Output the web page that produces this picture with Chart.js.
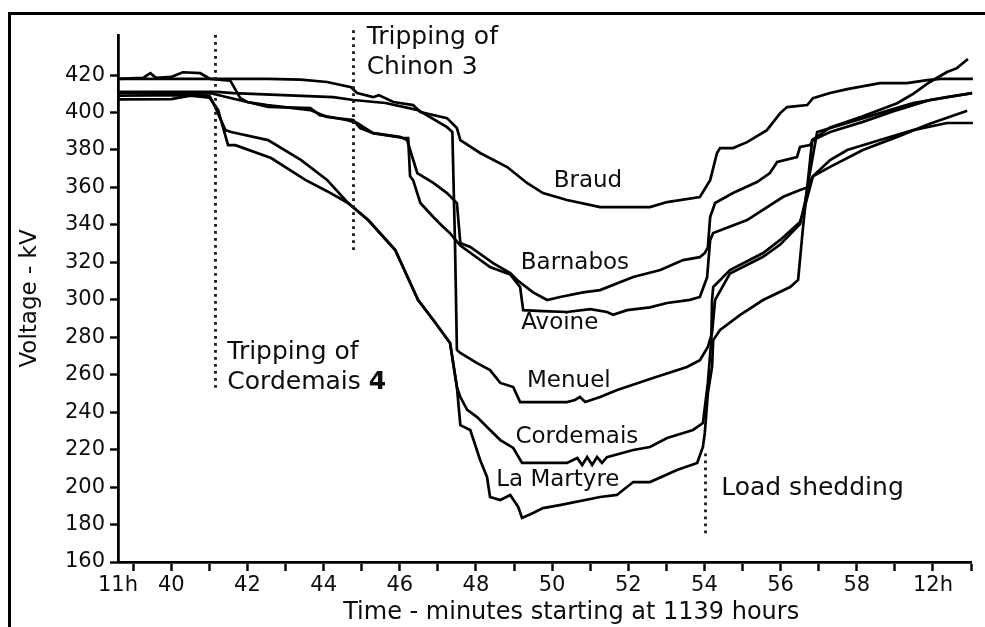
<!DOCTYPE html>
<html><head><meta charset="utf-8">
<script src="https://cdn.jsdelivr.net/npm/chart.js@4.4.0/dist/chart.umd.min.js"></script>
<style>
html,body{margin:0;padding:0;background:#fff;}
#wrap{position:relative;width:985px;height:627px;overflow:hidden;background:#fff;}
#c{position:absolute;left:0;top:0;}
#frame{position:absolute;left:8px;top:12px;width:990px;height:630px;border-top:3px solid #000;border-left:3px solid #000;pointer-events:none;}
</style></head><body>
<div id="wrap"><canvas id="c" width="985" height="627"></canvas><div id="frame"></div></div>
<script>
// ---- data (time in minutes, voltage in kV) ----
const seriesNames = ['Braud','Barnabos','Avoine','Menuel','Cordemais','La Martyre'];

const braud = [[38.6,418],[42.54,418],[43.4,417.6],[44.09,416.3],[44.72,413.5],[44.88,410.4],[45.3,408.2],[45.45,409.3],[45.83,405.6],[46.35,404],[46.54,400.3],[47.24,397],[47.5,391.7],[47.59,385.3],[48.11,378.4],[48.82,370.9],[49.34,362.4],[49.76,357],[50.39,353.3],[51.26,349.5],[52.57,349.5],[53.02,352.2],[53.88,354.9],[54.15,363.9],[54.33,378.4],[54.41,381],[54.75,381],[55.12,384.2],[55.64,390.6],[55.99,399.7],[56.17,402.9],[56.7,404],[56.85,407.7],[57.3,410.4],[57.75,412.5],[58.61,415.7],[59.32,415.7],[59.85,417.3],[60.2,418],[61.05,418]];

const barnabos = [[38.6,410.5],[41.0,410.5],[41.2,409.5],[41.5,408],[42.0,405.6],[42.54,403],[43.65,402.4],[43.9,398.6],[44.6,396],[44.88,394.4],[45.3,389],[46.0,387],[46.19,385.3],[46.46,367.7],[46.88,362.4],[47.24,357],[47.5,351.7],[47.59,330.3],[47.85,328.2],[48.45,319.6],[48.9,314.3],[49.08,310.6],[49.5,304],[49.87,299.9],[50.21,301.5],[50.81,304],[51.26,305.2],[52.13,312.2],[52.84,315.9],[53.44,321.2],[53.88,322.8],[54.01,325],[54.09,328],[54.15,344.2],[54.28,351.7],[54.75,357],[55.38,362.9],[55.72,367.7],[55.91,373.6],[56.43,376.2],[56.51,381.6],[56.77,382.6],[56.85,385.3],[57.3,389.6],[58.16,395],[59.06,401.3],[59.92,406.7],[61.03,410.4]];

const avoine = [[38.6,418],[39.26,418.5],[39.45,421],[39.6,418.5],[40.0,419],[40.3,421.5],[40.76,421],[41.02,418],[41.55,417],[41.81,407.7],[41.99,405.6],[42.52,404],[43.65,401.3],[44.09,397.6],[44.78,396],[44.96,391.7],[45.3,389],[46.09,386.4],[46.22,386.4],[46.27,366],[46.35,363.9],[46.54,351.7],[46.88,344.2],[47.14,338.9],[47.3,336],[47.59,329],[48.37,317.5],[48.9,313.5],[49.16,306.8],[49.24,294.5],[49.76,294],[50.39,293.5],[51.0,295],[51.44,293.5],[51.6,292],[51.97,294.5],[52.57,296],[53.02,298.3],[53.62,300],[53.88,301.5],[54.07,312],[54.15,332],[54.23,335.7],[55.12,342.6],[56.07,355],[56.51,358.6],[56.7,360],[56.85,366],[57.3,371],[58.16,380],[59.06,387],[59.92,394],[60.9,401]];

const menuel = [[38.6,411],[41.2,411],[41.63,410.4],[42.94,409.3],[44.25,408.2],[44.78,406.7],[45.62,405.1],[46.48,401.3],[47.24,392.2],[47.38,389.6],[47.45,330],[47.5,273.2],[47.59,271.6],[48.03,266.2],[48.37,262.5],[48.64,255.6],[48.98,253.4],[49.16,245.4],[50.39,245.4],[50.6,246.5],[50.73,248.1],[50.87,245.4],[51.26,248.1],[51.71,251.8],[52.65,258.2],[53.54,264.1],[53.88,267.8],[54.09,274.8],[54.2,282.3],[54.28,300],[54.67,314],[55.54,323],[55.99,329.5],[56.51,340.5],[56.64,352],[56.77,368],[56.96,389.6],[57.75,394.4],[58.61,399.7],[59.48,405],[60.37,408.2],[61.03,410.4]];

const cordemais = [[38.6,409],[40.5,409.3],[41.0,409],[41.15,403],[41.42,390.6],[41.57,389.6],[42.54,385.3],[43.41,374.6],[44.09,364],[44.64,351.7],[45.17,342.6],[45.88,326.6],[46.48,299.9],[46.88,289.2],[47.32,276.9],[47.5,253.4],[47.59,248.1],[47.77,241.2],[48.03,237.4],[48.37,230.5],[48.64,225.1],[48.98,220.9],[49.21,212.9],[50.39,212.9],[50.66,215.5],[50.79,211.8],[50.92,216],[51.05,211.8],[51.18,216],[51.31,212.9],[51.44,216],[52.13,219.8],[52.57,221.4],[53.02,226.2],[53.7,230.5],[53.96,234.2],[54.09,255.6],[54.18,278.5],[54.2,299.9],[54.23,306.8],[54.67,315.9],[55.54,325],[55.99,332],[56.51,341.5],[56.64,350],[56.85,366],[57.3,374.6],[57.75,380],[58.61,385.3],[59.48,390.6],[60.37,394.4],[61.05,394.4]];

const laMartyre = [[38.6,407],[40.0,407.2],[40.5,409],[41.0,408],[41.23,401.3],[41.49,382.6],[41.68,382.6],[42.62,375.7],[43.52,364],[44.09,358],[44.64,351.7],[45.17,342.6],[45.88,326.6],[46.48,299.9],[46.88,289.2],[47.32,276.9],[47.5,253.4],[47.59,233.1],[47.85,230.5],[48.11,214.5],[48.29,205.4],[48.37,194.7],[48.64,193.1],[48.9,195.8],[49.11,189.4],[49.21,183.5],[49.5,186.2],[49.76,188.8],[50.2,190.4],[51.26,194.7],[51.7,195.8],[52.13,202.7],[52.57,202.7],[53.28,209.1],[53.81,212.9],[53.96,221.4],[54.01,228.9],[54.09,250.2],[54.2,264.1],[54.23,278.5],[54.41,283.9],[54.94,291.9],[55.54,299.9],[56.25,306.8],[56.46,310.6],[56.59,338.9],[56.83,385.3],[57.3,392],[58.16,398],[59.06,405],[59.48,410],[59.92,416.3],[60.37,421.6],[60.63,423.7],[60.92,428.6]];

const xTickValues = [38.6,39,40,41,42,43,44,45,46,47,48,49,50,51,52,53,54,55,56,57,58,59,60,61];
const xTickLabels = ['11h','','40','','42','','44','','46','','48','','50','','52','','54','','56','','58','','12h',''];
const yTickValues = [160,180,200,220,240,260,280,300,320,340,360,380,400,420];

// event times (minutes) and annotation texts
const eventTimes = [41.15, 44.78, 54.02];
const eventTexts = [['Tripping of','Cordemais 4'],['Tripping of','Chinon 3'],['Load shedding']];

// ---- drawing ----
const FONT = '"DejaVu Sans", "Liberation Sans", sans-serif';
const INK = '#0d0d0d';
Chart.defaults.font.family = FONT;
Chart.defaults.color = INK;

const allSeries = [braud, barnabos, avoine, menuel, cordemais, laMartyre];

const eventLineSpans = [[441.4,251.8],[444,325.5],[218,173.5]];
const curveLabelAnchors = [[50.94,363.4],[50.6,319.6],[50.2,287.6],[50.44,256.6],[50.65,226.7],[50.15,203.8]];
const eventTextAnchors = [[41.47,271.6,255.6],[45.13,440.3,424.3],[54.44,199]];

const annotations = {
  id: 'annotations',
  afterDatasetsDraw(chart) {
    const {ctx, scales: {x, y}} = chart;
    ctx.save();
    ctx.strokeStyle = '#1a1a1a';
    ctx.lineWidth = 2.8;
    ctx.setLineDash([2.8, 4.2]);
    eventTimes.forEach((t, i) => {
      const px = Math.round(x.getPixelForValue(t)) + 0.5;
      ctx.beginPath();
      ctx.moveTo(px, y.getPixelForValue(eventLineSpans[i][0]));
      ctx.lineTo(px, y.getPixelForValue(eventLineSpans[i][1]));
      ctx.stroke();
    });
    ctx.setLineDash([]);
    ctx.fillStyle = INK;
    ctx.textBaseline = 'middle';
    ctx.textAlign = 'center';
    ctx.font = '23px ' + FONT;
    seriesNames.forEach((n, i) => {
      ctx.fillText(n, x.getPixelForValue(curveLabelAnchors[i][0]), y.getPixelForValue(curveLabelAnchors[i][1]));
    });
    ctx.textAlign = 'left';
    eventTexts.forEach((lines, i) => {
      const a = eventTextAnchors[i];
      const px = x.getPixelForValue(a[0]);
      lines.forEach((ln, j) => {
        const py = y.getPixelForValue(a[1 + j]);
        if (ln === 'Cordemais 4') {
          ctx.font = '25px ' + FONT;
          const head = 'Cordemais ';
          ctx.fillText(head, px, py);
          const w = ctx.measureText(head).width;
          ctx.font = 'bold 25px ' + FONT;
          ctx.fillText('4', px + w, py);
        } else {
          ctx.font = '25px ' + FONT;
          ctx.fillText(ln, px, py);
        }
      });
    });
    ctx.restore();
  }
};

function fixBox(w, h) {
  return s => {
    if (w !== null) s.width = w;
    if (h !== null) s.height = h;
    s.paddingTop = 0; s.paddingBottom = 0; s.paddingLeft = 0; s.paddingRight = 0;
  };
}

new Chart(document.getElementById('c'), {
  type: 'line',
  data: {
    datasets: allSeries.map((s, i) => ({
      label: seriesNames[i],
      data: s.map(([t, v]) => ({x: t, y: v})),
      borderColor: '#000',
      borderWidth: 2.7,
      pointRadius: 0,
      tension: 0,
      fill: false,
      clip: false
    }))
  },
  options: {
    responsive: false,
    animation: false,
    devicePixelRatio: 1,
    events: [],
    layout: {padding: {left: 0, top: 35, right: 14, bottom: 0}},
    plugins: {legend: {display: false}, tooltip: {enabled: false}},
    scales: {
      x: {
        type: 'linear',
        min: 38.6, max: 61,
        afterBuildTicks: s => { s.ticks = xTickValues.map(v => ({value: v})); },
        afterFit: fixBox(null, 65),
        ticks: {
          autoSkip: false, maxRotation: 0, minRotation: 0, padding: 2,
          font: {size: 21}, color: INK,
          callback: (v, i) => xTickLabels[i]
        },
        grid: {
          display: true, drawOnChartArea: false, drawTicks: true, tickLength: 9,
          tickWidth: 2.4,
          tickColor: c => (c.tick && c.tick.value < 38.9) ? 'rgba(0,0,0,0)' : '#000'
        },
        border: {display: true, color: '#000', width: 2.8},
        title: {
          display: true,
          text: '       Time - minutes starting at 1139 hours',
          font: {size: 24}, color: INK,
          padding: {top: 0, bottom: 0}
        }
      },
      y: {
        type: 'linear',
        min: 160, max: 441.4,
        afterBuildTicks: s => { s.ticks = yTickValues.map(v => ({value: v})); },
        afterFit: fixBox(118, null),
        ticks: {padding: 5, font: {size: 21}, color: INK},
        grid: {
          display: true, drawOnChartArea: false, drawTicks: true, tickLength: 8,
          tickWidth: 2.4, tickColor: '#000'
        },
        border: {display: true, color: '#000', width: 2.8},
        title: {
          display: true, text: 'Voltage - kV',
          font: {size: 23}, color: INK,
          padding: {top: 16, bottom: 0}
        }
      }
    }
  },
  plugins: [annotations]
});
</script>
</body></html>
